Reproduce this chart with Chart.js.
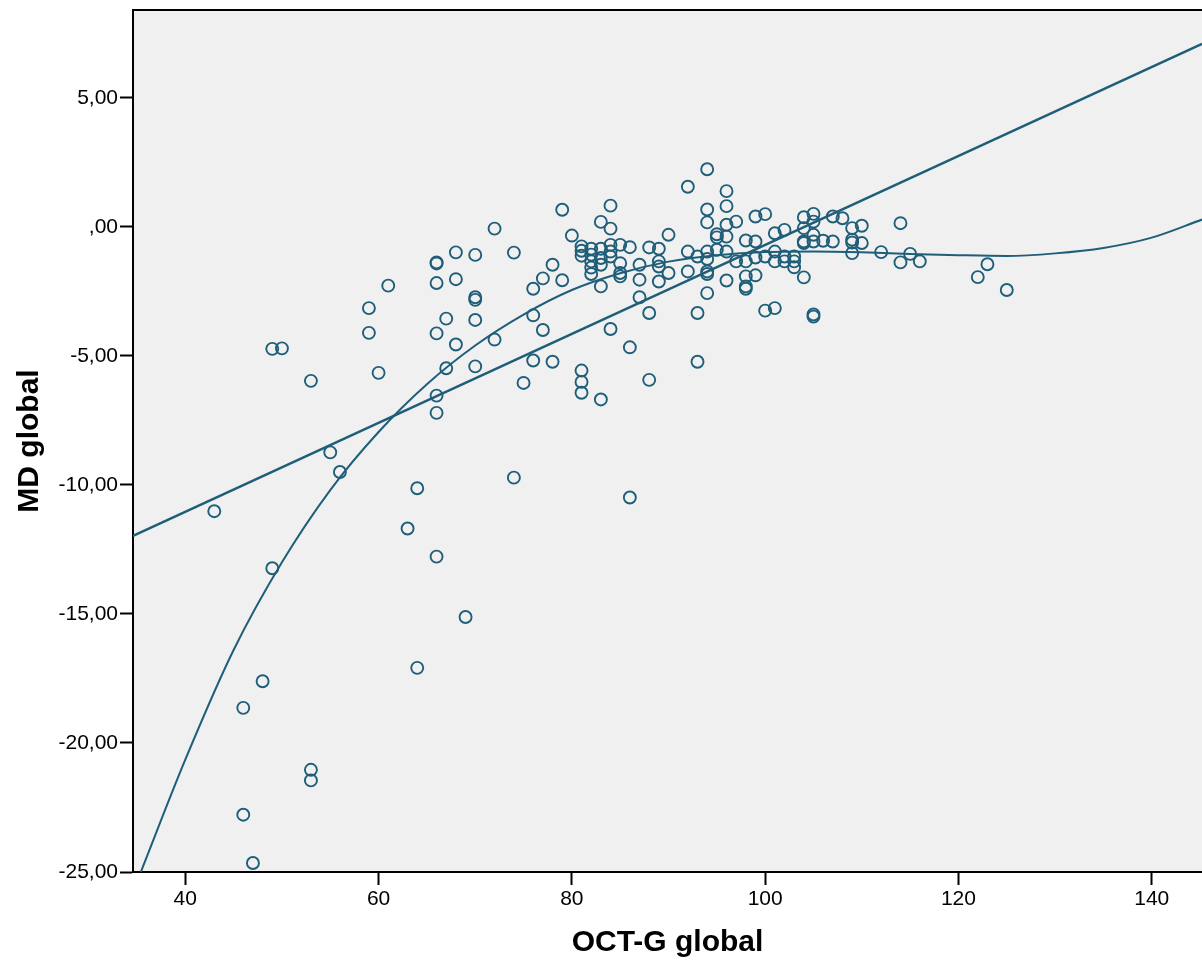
<!DOCTYPE html>
<html>
<head>
<meta charset="utf-8">
<title>MD global / OCT-G global</title>
<script src="https://cdn.jsdelivr.net/npm/chart.js@4.4.1/dist/chart.umd.min.js"></script>
<style>
  html, body { margin: 0; padding: 0; background: #fff; }
  #wrap { width: 1202px; height: 965px; }
</style>
</head>
<body>
<div id="wrap"><canvas id="chart" width="1202" height="965"></canvas></div>
<script>
// OCT-G global (x) and MD global (y) per eye, grouped by x value
const octG = [
  43, 49, 50, 53, 55, 56, 49, 48, 46, 53, 53, 46, 47, 59, 59, 61, 60, 64, 63, 66, 69, 64,
  66, 66, 66, 66, 66, 66,
  67, 67,
  68, 68, 68,
  70, 70, 70, 70, 70,
  72, 72,
  74, 74,
  75,
  76, 76, 76,
  77, 77,
  78, 78,
  79, 79,
  80,
  81, 81, 81, 81, 81, 81,
  82, 82, 82, 82, 82,
  83, 83, 83, 83, 83, 83,
  84, 84, 84, 84, 84, 84,
  85, 85, 85, 85,
  86, 86, 86,
  87, 87, 87,
  88, 88, 88,
  89, 89, 89, 89,
  90, 90,
  92, 92, 92,
  93, 93, 93,
  94, 94, 94, 94, 94, 94, 94, 94,
  95, 95, 95,
  96, 96, 96, 96, 96, 96,
  97, 97,
  98, 98, 98, 98, 98,
  99, 99, 99, 99,
  100, 100, 100,
  101, 101, 101, 101,
  102, 102, 102,
  103, 103, 103,
  104, 104, 104, 104, 104,
  105, 105, 105, 105, 105, 105,
  106,
  107, 107,
  108,
  109, 109, 109, 109,
  110, 110,
  112,
  114, 114,
  115, 116, 122, 123, 125
];
const mdGlobal = [
  -11.02, -4.73, -4.71, -5.97, -8.74, -9.50, -13.23, -17.61, -18.64, -21.04, -21.45, -22.78, -24.65, -3.15, -4.11, -2.28, -5.66, -10.13, -11.69, -12.78, -15.12, -17.09,
  -1.38, -1.42, -2.18, -4.13, -6.54, -7.21,
  -3.56, -5.48,
  -0.99, -2.03, -4.56,
  -1.09, -2.73, -2.83, -3.61, -5.41,
  -0.07, -4.37,
  -1.00, -9.72,
  -6.05,
  -2.40, -3.43, -5.18,
  -2.00, -4.00,
  -1.47, -5.23,
  0.66, -2.07,
  -0.34,
  -0.76, -0.93, -1.12, -5.57, -6.01, -6.43,
  -0.85, -1.08, -1.34, -1.58, -1.83,
  0.19, -0.85, -1.21, -1.47, -2.31, -6.69,
  0.82, -0.07, -0.70, -0.96, -1.15, -3.96,
  -0.70, -1.41, -1.79, -1.92,
  -0.79, -4.67, -10.49,
  -1.47, -2.05, -2.73,
  -0.80, -3.34, -5.93,
  -0.85, -1.34, -1.54, -2.12,
  -0.31, -1.79,
  1.55, -0.96, -1.73,
  -1.15, -3.34, -5.23,
  2.23, 0.67, 0.17, -0.96, -1.25, -1.73, -1.83, -2.57,
  -0.29, -0.41, -0.89,
  1.38, 0.80, 0.08, -0.38, -0.96, -2.08,
  0.20, -1.34,
  -0.53, -1.34, -1.92, -2.31, -2.40,
  0.40, -0.57, -1.19, -1.88,
  0.49, -1.15, -3.25,
  -0.25, -0.96, -1.34, -3.15,
  -0.12, -1.15, -1.34,
  -1.15, -1.34, -1.57,
  0.37, -0.05, -0.57, -0.63, -1.96,
  0.50, 0.20, -0.31, -0.57, -3.40, -3.48,
  -0.54,
  0.40, -0.57,
  0.33,
  -0.05, -0.50, -0.61, -1.02,
  0.04, -0.63,
  -0.98,
  0.14, -1.38,
  -1.05, -1.34, -1.95, -1.45, -2.45
];

// linear fit, end to end across the x range
const linearX = [34.59, 145.2];
const linearY = [-11.98, 7.09];

// cubic fit
const cubicX = [35.4, 40, 45, 50, 55, 60, 65, 70, 75, 80, 85, 90, 95, 100, 105, 110, 115, 120, 125, 130, 135, 140, 145.2];
const cubicY = [-25.0, -20.65, -16.4, -13.0, -10.2, -7.95, -6.1, -4.6, -3.4, -2.45, -1.8, -1.35, -1.1, -0.98, -0.96, -0.99, -1.05, -1.1, -1.13, -1.03, -0.82, -0.42, 0.28];

const xTicks = [40, 60, 80, 100, 120, 140];
const yTicks = [-25, -20, -15, -10, -5, 0, 5];

const ink = '#1f5e79';
const fontFamily = '"Liberation Sans", Arial, Helvetica, sans-serif';

const toPoints = (xs, ys) => xs.map((x, i) => ({ x: x, y: ys[i] }));

const plotBackground = {
  id: 'plotBackground',
  beforeDraw(chart) {
    const { ctx, chartArea: a } = chart;
    ctx.save();
    ctx.fillStyle = '#f0f0f0';
    ctx.fillRect(a.left, a.top, a.right - a.left, a.bottom - a.top);
    ctx.strokeStyle = '#000';
    ctx.lineWidth = 2;
    ctx.beginPath();
    ctx.moveTo(a.left, a.top);
    ctx.lineTo(a.right, a.top);
    ctx.stroke();
    ctx.restore();
  }
};

new Chart(document.getElementById('chart'), {
  type: 'scatter',
  data: {
    datasets: [
      {
        label: 'MD global',
        data: toPoints(octG, mdGlobal),
        pointStyle: 'circle',
        pointRadius: 6,
        pointBorderWidth: 1.9,
        pointBorderColor: ink,
        pointBackgroundColor: 'rgba(0,0,0,0)',
        order: 3
      },
      {
        type: 'line',
        label: 'Linear',
        data: toPoints(linearX, linearY),
        borderColor: ink,
        borderWidth: 2.5,
        pointRadius: 0,
        fill: false,
        order: 2
      },
      {
        type: 'line',
        label: 'Cubic',
        data: toPoints(cubicX, cubicY),
        borderColor: ink,
        borderWidth: 2,
        pointRadius: 0,
        fill: false,
        cubicInterpolationMode: 'monotone',
        order: 1
      }
    ]
  },
  options: {
    responsive: false,
    animation: false,
    layout: { autoPadding: false, padding: { top: 10, left: 0, right: 0, bottom: 0 } },
    plugins: {
      legend: { display: false },
      tooltip: { enabled: false }
    },
    scales: {
      x: {
        type: 'linear',
        min: 34.59,
        max: 145.2,
        afterBuildTicks: s => { s.ticks = xTicks.map(v => ({ value: v })); },
        afterFit: s => {
          s.height = 93;
          s.paddingLeft = 0;
          s.paddingRight = 0;
        },
        border: { color: '#000', width: 2 },
        grid: { drawOnChartArea: false, drawTicks: true, tickLength: 13, tickWidth: 2, tickColor: '#000' },
        ticks: {
          color: '#000',
          padding: 2,
          maxRotation: 0,
          font: { family: fontFamily, size: 21 }
        },
        title: {
          display: true,
          text: 'OCT-G global',
          color: '#000',
          font: { family: fontFamily, size: 30, weight: 'bold' },
          padding: { top: 0, bottom: 4 }
        }
      },
      y: {
        type: 'linear',
        min: -25,
        max: 8.4,
        afterBuildTicks: s => { s.ticks = yTicks.map(v => ({ value: v })); },
        afterFit: s => {
          s.width = 133;
          s.paddingTop = 0;
          s.paddingBottom = 0;
        },
        border: { color: '#000', width: 2 },
        grid: { drawOnChartArea: false, drawTicks: true, tickLength: 13, tickWidth: 2, tickColor: '#000' },
        ticks: {
          color: '#000',
          padding: 2,
          font: { family: fontFamily, size: 21 },
          callback: v => v === 0 ? ',00' : v.toFixed(2).replace('.', ',')
        },
        title: {
          display: true,
          text: 'MD global',
          color: '#000',
          font: { family: fontFamily, size: 30, weight: 'bold' },
          padding: { top: 12, bottom: 0 }
        }
      }
    }
  },
  plugins: [plotBackground]
});
</script>
</body>
</html>
